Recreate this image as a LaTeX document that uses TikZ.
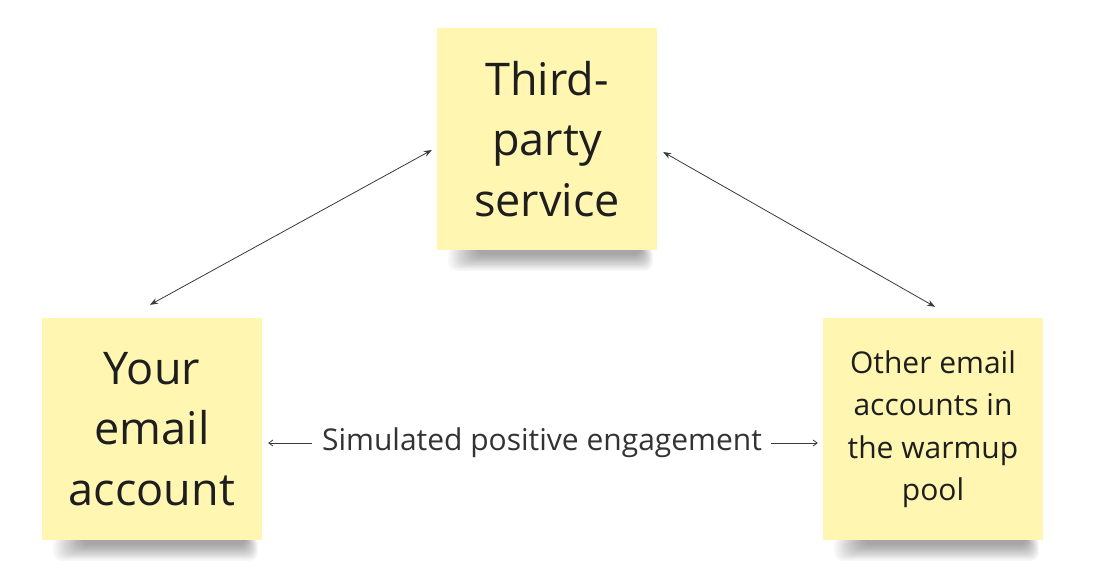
\documentclass[tikz,border=0pt]{standalone}
\usepackage{fontspec}
\setmainfont{Open Sans}
\usetikzlibrary{calc,arrows.meta}
\definecolor{notey}{HTML}{FFF6B2}
\definecolor{notetext}{HTML}{1E1E1E}
\definecolor{labtext}{HTML}{333333}
\definecolor{linecol}{HTML}{3A3A3A}
\tikzset{
  note/.style={fill=notey, minimum width=220pt, minimum height=222pt, inner sep=0pt,
    align=center, text=notetext},
  ghost/.style={minimum width=220pt, minimum height=222pt, inner sep=0pt},
  bigtext/.style={font=\fontsize{45}{60.5}\selectfont},
  smalltext/.style={font=\fontsize{30}{42.5}\selectfont},
  conn/.style={draw=linecol, line width=0.8pt, {Stealth[length=8pt,width=6pt]}-{Stealth[length=8pt,width=6pt]}},
  sconn/.style={draw=linecol, line width=0.8pt, -{Straight Barb[length=4pt,width=6pt]}},
}
\newcommand\myshadow[1]{%
  \foreach \i in {0,...,13}{%
    \fill[black, opacity=0.028, rounded corners=8pt]
      ($(#1.south west)+(40-2.2*\i,-4)$) rectangle ($(#1.south east)+(-16+0.9*\i,5+1.2*\i)$);
  }%
}
\begin{document}
\begin{tikzpicture}[x=1pt,y=-1pt]
\useasboundingbox[fill=white] (0,0) rectangle (1100,582);
% invisible placeholders for shadows
\path (547,139) node[ghost] (topg) {};
\path (152,429) node[ghost] (leftg) {};
\path (933,429) node[ghost] (rightg) {};
\myshadow{topg}
\myshadow{leftg}
\myshadow{rightg}
% notes
\node[note, bigtext] (top) at (547,139) {Third-\\party\\service};
\node[note, bigtext] (left) at (152,429) {Your\\email\\account};
\node[note, smalltext] (right) at (933,429) {Other email\\accounts in\\the warmup\\pool};
% label
\node[text=labtext, font=\fontsize{30}{34}\selectfont, inner sep=0pt] (lab) at (542,443) {Simulated positive engagement};
% connectors
\draw[conn] ([xshift=-2pt,yshift=13pt]left.north) -- ([xshift=-5pt,yshift=-11pt]top.west);
\draw[conn] ([xshift=6pt,yshift=-13pt]top.east) -- ([xshift=2pt,yshift=11pt]right.north);
\draw[sconn, shorten <=10pt] (lab.west) -- ($(left.east |- lab.west)+(6,0)$);
\draw[sconn, shorten <=9pt] (lab.east) -- ($(right.west |- lab.east)+(-5,0)$);
\end{tikzpicture}
\end{document}
